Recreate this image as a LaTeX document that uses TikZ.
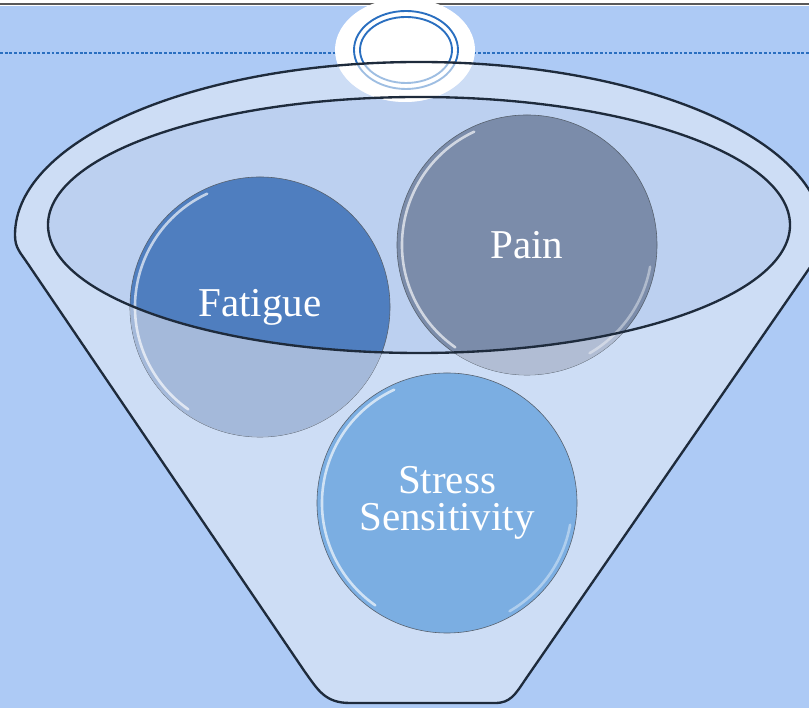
\documentclass[tikz,border=0pt]{standalone}
\usepackage{fontspec}
\setmainfont{Liberation Serif}
\definecolor{backblue}{HTML}{ADCAF5}
\definecolor{funnelfront}{HTML}{CDDDF5}
\definecolor{funnelback}{HTML}{BCD0F0}
\definecolor{funnelline}{HTML}{1E2B3C}
\definecolor{fatigueblue}{HTML}{4F7EBF}
\definecolor{painslate}{HTML}{7B8CAA}
\definecolor{stressblue}{HTML}{7BAEE2}
\definecolor{ringblue}{HTML}{2A6FC0}
\definecolor{fadegray}{HTML}{C9D3E6}
\tikzset{
  bubble/.style={circle, minimum size=7.8cm, inner sep=0pt, draw=funnelline!75, line width=0.5pt,
    text=white, font=\fontsize{35}{32}\selectfont, align=center},
  rimline/.style={draw=funnelline, line width=2pt},
  gloss/.style={white, opacity=0.65, line width=2.2pt, line cap=round}
}
\begin{document}
\begin{tikzpicture}[x=0.03cm, y=0.03cm]
      \useasboundingbox (0,0) rectangle (809,708);
      \clip (0,0) rectangle (809,708);
      \fill[white] (0,0) rectangle (809,708);
      \fill[backblue] (0,0) rectangle (809,702);
      \draw[black!65, line width=1.4pt] (0,704) -- (809,704);
      \draw[ringblue, line width=1pt, dash pattern=on 2.5pt off 1.5pt] (0,655) -- (809,655);

      \fill[funnelfront] (15,473) .. controls (15,460) and (20,456) .. (28,444) -- (305,36)
        .. controls (318,18) and (325,5) .. (350,5) -- (495,5)
        .. controls (510,5) and (515,13) .. (525,28) -- (822,458)
        .. controls (823,463) .. (823,473) arc[start angle=0, end angle=180, x radius=404, y radius=173];
      \fill[funnelback] (419,483) ellipse [x radius=371, y radius=128];

      \node[bubble, fill=fatigueblue] (fatigue) at (260,401) {Fatigue};
      \node[bubble, fill=painslate] (pain) at (527,463) {Pain};

      \begin{scope}
        \clip (fatigue.center) circle (130) (pain.center) circle (130);
        \fill[fadegray, opacity=0.7, even odd rule] (0,0) rectangle (809,708)
          (419,483) ellipse [x radius=371, y radius=128];
      \end{scope}

      \node[bubble, fill=stressblue] (stress) at (447,205) {Stress\\Sensitivity};

      \draw[gloss] ([shift={(115:125)}]fatigue.center) arc[start angle=115, end angle=235, radius=125];
      \draw[gloss] ([shift={(115:125)}]pain.center) arc[start angle=115, end angle=235, radius=125];
      \draw[gloss] ([shift={(115:125)}]stress.center) arc[start angle=115, end angle=235, radius=125];
      \draw[gloss, opacity=0.4] ([shift={(-10:125)}]pain.center) arc[start angle=-10, end angle=-60, radius=125];
      \draw[gloss, opacity=0.4] ([shift={(-10:125)}]stress.center) arc[start angle=-10, end angle=-60, radius=125];

      \fill[white] (405,658) ellipse [x radius=70, y radius=52];
      \draw[ringblue, line width=1.6pt] (406,658) ellipse [x radius=52, y radius=39];
      \draw[ringblue, line width=1.6pt] (406,658) ellipse [x radius=46, y radius=33];
      \begin{scope}
        \clip (419,473) ellipse [x radius=404, y radius=173];
        \fill[white, opacity=0.55] (405,658) ellipse [x radius=70, y radius=52];
      \end{scope}

      \draw[rimline] (419,483) ellipse [x radius=371, y radius=128];
      \draw[rimline] (15,473) .. controls (15,460) and (20,456) .. (28,444) -- (305,36)
        .. controls (318,18) and (325,5) .. (350,5) -- (495,5)
        .. controls (510,5) and (515,13) .. (525,28) -- (822,458)
        .. controls (823,463) .. (823,473) arc[start angle=0, end angle=180, x radius=404, y radius=173];
\end{tikzpicture}
\end{document}
